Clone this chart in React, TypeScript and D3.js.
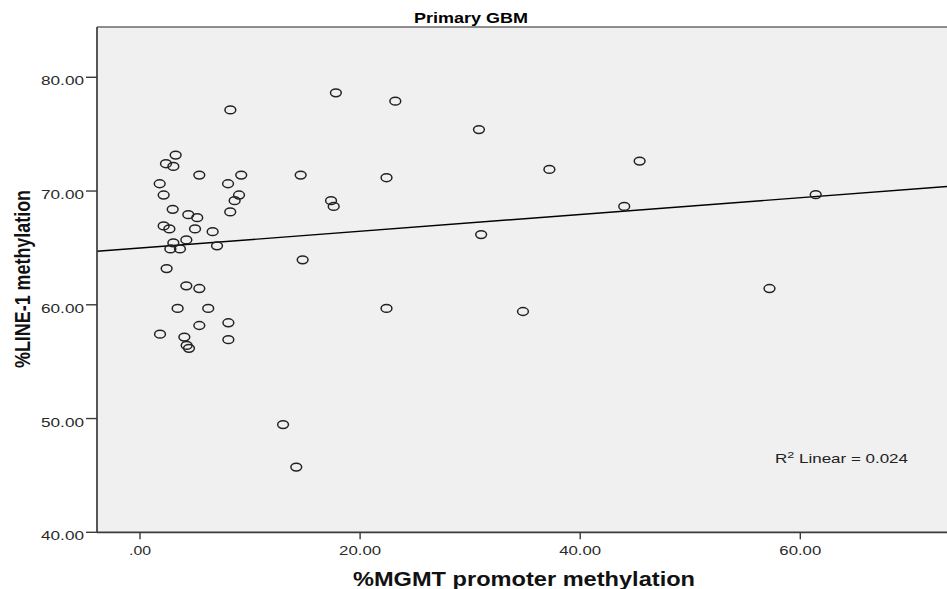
import React from "react";
import * as d3 from "d3";

// %MGMT promoter methylation (x) and %LINE-1 methylation (y) per tumour
const mgmt = [
  8.21, 17.8, 23.2, 30.8, 3.24, 2.36, 3.03, 5.39, 9.2, 14.6, 22.4, 1.79, 8.0, 2.15,
  9.0, 8.6, 17.36, 17.6, 2.97, 8.2, 4.39, 5.2, 2.15, 2.67, 5.0, 6.6, 4.21, 3.03,
  2.76, 3.63, 7.0, 31.0, 14.78, 2.42, 4.21, 5.39, 3.42, 6.2, 22.4, 8.03, 5.39, 1.82,
  4.03, 8.03, 4.24, 4.45, 13.0, 14.2, 37.2, 45.4, 44.0, 61.4, 57.2, 34.8,
];
const line1 = [
  77.13, 78.63, 77.9, 75.4, 73.16, 72.4, 72.16, 71.4, 71.4, 71.4, 71.17, 70.64, 70.64,
  69.65, 69.65, 69.15, 69.15, 68.65, 68.39, 68.16, 67.92, 67.66, 66.93, 66.67, 66.67,
  66.43, 65.7, 65.44, 64.91, 64.91, 65.18, 66.17, 63.95, 63.18, 61.67, 61.43, 59.68,
  59.68, 59.68, 58.42, 58.18, 57.42, 57.16, 56.93, 56.43, 56.17, 49.47, 45.73, 71.9,
  72.63, 68.65, 69.68, 61.43, 59.41,
];

// Linear fit shown on the plot
const fitIntercept = 64.99;
const fitSlope = 0.0738;
const rSquared = "0.024";

const xTicks = [0, 20, 40, 60];
const yTicks = [40, 50, 60, 70, 80];
const fmt = (v: number) => (v === 0 ? ".00" : v.toFixed(2));

const title = "Primary GBM";
const xTitle = "%MGMT promoter methylation";
const yTitle = "%LINE-1 methylation";

const W = 947;
const H = 589;
const left = 97;
const right = 947;
const top = 27;
const bottom = 532.3;

export default function App() {
  const x = d3.scaleLinear().domain([-3.907, 73.33]).range([left, right]);
  const y = d3.scaleLinear().domain([40, 84.42]).range([bottom, top]);
  const [x0, x1] = x.domain();
  const fitPath = d3.line<number>()
    .x((v) => x(v))
    .y((v) => y(fitIntercept + fitSlope * v))([x0, x1]);

  const font = "'Liberation Sans', Arial, sans-serif";
  const labelW = (s: string) => (s.length === 3 ? 22 : 42);

  return (
    <svg
      width={W}
      height={H}
      style={{ position: "fixed", left: 0, top: 0, background: "#fff" }}
      fontFamily={font}
    >
      <rect x={left} y={top} width={right - left} height={bottom - top} fill="#f0f0f0" />
      <path d={fitPath ?? ""} stroke="#000" strokeWidth={1.4} fill="none" />
      {mgmt.map((v, i) => (
        <ellipse
          key={i}
          cx={x(v)}
          cy={y(line1[i])}
          rx={5.4}
          ry={3.9}
          fill="none"
          stroke="#222"
          strokeWidth={1.5}
        />
      ))}
      {/* frame */}
      <line x1={left} x2={right} y1={top} y2={top} stroke="#6a6a6a" strokeWidth={1.6} />
      <line x1={left} x2={left} y1={top} y2={bottom} stroke="#3a3a3a" strokeWidth={1.7} />
      <line x1={left} x2={right} y1={bottom} y2={bottom} stroke="#3a3a3a" strokeWidth={1.7} />

      {yTicks.map((t) => (
        <g key={t}>
          <line x1={86} x2={left} y1={y(t)} y2={y(t)} stroke="#3a3a3a" strokeWidth={1.4} />
          <text
            x={84}
            y={y(t) + 8}
            textAnchor="end"
            fontSize={13}
            fill="#2a2a2a"
            textLength={43}
            lengthAdjust="spacingAndGlyphs"
          >
            {fmt(t)}
          </text>
        </g>
      ))}
      {xTicks.map((t) => (
        <g key={t}>
          <line x1={x(t)} x2={x(t)} y1={bottom} y2={bottom + 7} stroke="#3a3a3a" strokeWidth={1.4} />
          <text
            x={x(t)}
            y={555}
            textAnchor="middle"
            fontSize={13}
            fill="#2a2a2a"
            textLength={labelW(fmt(t))}
            lengthAdjust="spacingAndGlyphs"
          >
            {fmt(t)}
          </text>
        </g>
      ))}

      <text
        x={471}
        y={23}
        textAnchor="middle"
        fontSize={14}
        fontWeight="bold"
        fill="#000"
        textLength={114}
        lengthAdjust="spacingAndGlyphs"
      >
        {title}
      </text>
      <text
        x={524}
        y={586}
        textAnchor="middle"
        fontSize={19.5}
        fontWeight="bold"
        fill="#111"
        textLength={342}
        lengthAdjust="spacingAndGlyphs"
      >
        {xTitle}
      </text>
      <g transform="translate(30,279) scale(1.2,1) rotate(-90)">
        <text
          x={0}
          y={0}
          textAnchor="middle"
          fontSize={18}
          fontWeight="bold"
          fill="#111"
          textLength={178}
          lengthAdjust="spacingAndGlyphs"
        >
          {yTitle}
        </text>
      </g>

      <text
        x={775}
        y={463}
        fontSize={12.8}
        fill="#222"
        textLength={133}
        lengthAdjust="spacingAndGlyphs"
      >
        R<tspan dy={-5} fontSize={9.5}>2</tspan>
        <tspan dy={5}> Linear = {rSquared}</tspan>
      </text>
    </svg>
  );
}
